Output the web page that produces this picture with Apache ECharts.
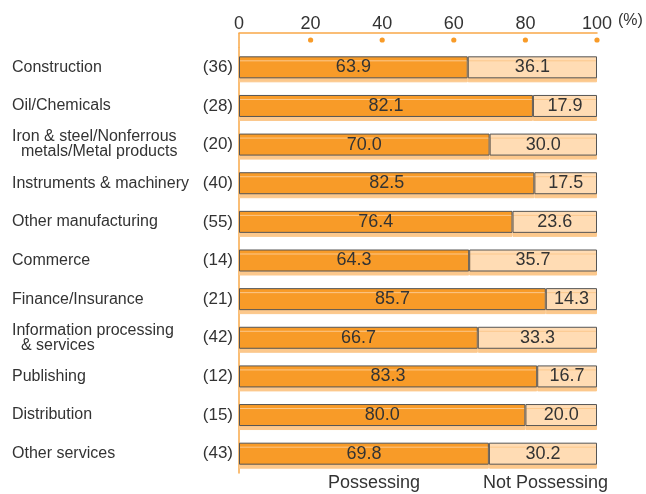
<!DOCTYPE html>
<html>
<head>
<meta charset="utf-8">
<script src="https://cdn.jsdelivr.net/npm/echarts@6/dist/echarts.min.js"></script>
<style>
  html, body { margin: 0; padding: 0; background: #fff; }
  #chart { width: 646px; height: 494px; }
</style>
</head>
<body>
<div id="chart"></div>
<script>
// industries, top to bottom
const industries = [
  'Construction',
  'Oil/Chemicals',
  'Iron & steel/Nonferrous\n  metals/Metal products',
  'Instruments & machinery',
  'Other manufacturing',
  'Commerce',
  'Finance/Insurance',
  'Information processing\n  & services',
  'Publishing',
  'Distribution',
  'Other services'
];
const counts = [36, 28, 20, 40, 55, 14, 21, 42, 12, 15, 43];
const possessing = [63.9, 82.1, 70.0, 82.5, 76.4, 64.3, 85.7, 66.7, 83.3, 80.0, 69.8];
const notPossessing = [36.1, 17.9, 30.0, 17.5, 23.6, 35.7, 14.3, 33.3, 16.7, 20.0, 30.2];
const dotTicks = [20, 40, 60, 80, 100];

const FONT = '"Liberation Sans", Arial, sans-serif';
const orange = '#f89b28';
const peach = '#ffdcb4';
const lineOrange = '#f9a848';

let myChart = echarts.init(document.getElementById('chart'));

let option = {
  animation: false,
  textStyle: { fontFamily: FONT },
  grid: { left: 239, right: 49, top: 48, bottom: 21 },
  legend: {
    bottom: 2,
    left: 323,
    padding: 0,
    icon: 'none',
    itemWidth: 0,
    itemGap: 58,
    textStyle: { fontFamily: FONT, fontSize: 18, color: '#333' },
    data: ['Possessing', 'Not Possessing']
  },
  xAxis: {
    type: 'value',
    position: 'top',
    offset: 15,
    min: 0,
    max: 100,
    interval: 20,
    name: '(%)',
    nameLocation: 'end',
    nameGap: 20,
    nameTextStyle: {
      fontFamily: FONT, fontSize: 16, color: '#333',
      verticalAlign: 'bottom', padding: [0, 0, 4, 0]
    },
    axisLine: { show: true, lineStyle: { color: lineOrange, width: 1.5 } },
    axisTick: { show: false },
    splitLine: { show: false },
    axisLabel: { margin: 0, fontSize: 18, color: '#333', fontFamily: FONT }
  },
  yAxis: [
    {
      type: 'category',
      inverse: true,
      data: industries,
      axisLine: { show: true, lineStyle: { color: lineOrange, width: 1.5 } },
      axisTick: { show: false },
      axisLabel: {
        margin: 227,
        align: 'left',
        fontSize: 16,
        lineHeight: 15,
        color: '#333',
        fontFamily: FONT
      }
    },
    {
      type: 'category',
      inverse: true,
      position: 'left',
      data: counts.map(c => '(' + c + ')'),
      axisLine: { show: false },
      axisTick: { show: false },
      axisLabel: { margin: 6, fontSize: 17, color: '#333', fontFamily: FONT }
    }
  ],
  series: [
    {
      name: 'Possessing',
      type: 'bar',
      stack: 'all',
      barWidth: 22,
      data: possessing,
      itemStyle: {
        color: orange,
        borderColor: '#555',
        borderWidth: 1,
        shadowColor: '#fcc88c',
        shadowOffsetY: 4,
        shadowBlur: 0
      },
      label: {
        show: true,
        position: 'inside',
        formatter: p => p.value.toFixed(1),
        fontSize: 18,
        color: '#333',
        fontFamily: FONT
      }
    },
    {
      name: 'Not Possessing',
      type: 'bar',
      stack: 'all',
      barWidth: 22,
      data: notPossessing,
      itemStyle: {
        color: peach,
        borderColor: '#555',
        borderWidth: 1,
        shadowColor: '#fcc88c',
        shadowOffsetY: 4,
        shadowBlur: 0
      },
      label: {
        show: true,
        position: 'inside',
        formatter: p => p.value.toFixed(1),
        fontSize: 18,
        color: '#333',
        fontFamily: FONT
      }
    }
  ]
};
myChart.setOption(option);

// orange dots under the top axis + left line extension up to the axis
let x0 = myChart.convertToPixel({ xAxisIndex: 0 }, 0);
let elements = dotTicks.map(v => ({
  type: 'circle',
  shape: { cx: myChart.convertToPixel({ xAxisIndex: 0 }, v), cy: 40, r: 2.6 },
  style: { fill: orange }
}));
elements.push({
  type: 'line',
  shape: { x1: x0, y1: 33, x2: x0, y2: 48 },
  style: { stroke: lineOrange, lineWidth: 1.5 }
});
myChart.setOption({ graphic: elements });

window.addEventListener('resize', function () { myChart.resize(); });
</script>
</body>
</html>
